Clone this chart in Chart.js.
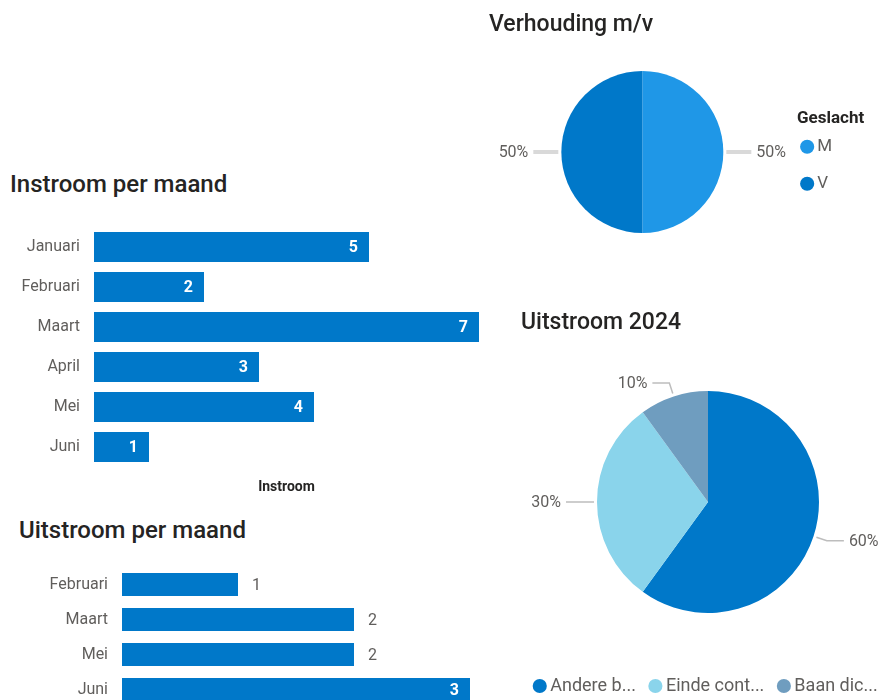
<!DOCTYPE html>
<html>
<head>
<meta charset="utf-8">
<script src="https://cdn.jsdelivr.net/npm/chart.js@4.4.1/dist/chart.umd.min.js"></script>
<style>
html, body { margin: 0; padding: 0; background: #fff; width: 882px; height: 700px; overflow: hidden; }
.titel { position: absolute; font-family: Roboto, sans-serif; font-weight: 500; font-size: 23px; line-height: 23px; color: #252423; white-space: nowrap; }
.groot { font-size: 24px; line-height: 24px; }
.legendakop { position: absolute; font-family: Roboto, sans-serif; font-weight: bold; font-size: 17px; line-height: 17px; color: #252423; }
canvas { position: absolute; }
</style>
</head>
<body>
<canvas id="instroomChart" width="490" height="275" style="left:0;top:222px"></canvas>
<canvas id="uitstroomChart" width="490" height="145" style="left:0;top:562px"></canvas>
<canvas id="geslachtChart" width="412" height="230" style="left:470px;top:37px"></canvas>
<canvas id="redenChart" width="380" height="375" style="left:520px;top:330px"></canvas>

<div class="titel groot" style="left:10px;top:172px">Instroom per maand</div>
<div class="titel groot" style="left:19px;top:518px">Uitstroom per maand</div>
<div class="titel" style="left:489px;top:12px">Verhouding m/v</div>
<div class="titel" style="left:521px;top:310px">Uitstroom 2024</div>
<div class="legendakop" style="left:797px;top:109px">Geslacht</div>

<script>
// Data
const instroomMaanden = ['Januari', 'Februari', 'Maart', 'April', 'Mei', 'Juni'];
const instroomAantal = [5, 2, 7, 3, 4, 1];

const uitstroomMaanden = ['Februari', 'Maart', 'Mei', 'Juni'];
const uitstroomAantal = [1, 2, 2, 3];

const geslachtLabels = ['M', 'V'];
const geslachtAantal = [50, 50];

const redenLabels = ['Andere b...', 'Einde cont...', 'Baan dic...'];
const redenAantal = [6, 3, 1];

// Kleuren
const donkerBlauw = '#0078c9';
const lichtBlauw = '#1f97e7';
const cyaan = '#8ad4eb';
const grijsBlauw = '#6f9dbf';
const labelKleur = '#605e5c';
const titelKleur = '#252423';

Chart.defaults.font.family = 'Roboto, sans-serif';
Chart.defaults.color = labelKleur;

// Waardelabels op de balken
const barValueLabels = {
    id: 'barValueLabels',
    afterDatasetsDraw(chart, args, opts) {
        const { ctx, chartArea } = chart;
        const meta = chart.getDatasetMeta(0);
        const values = chart.data.datasets[0].data;
        ctx.save();
        ctx.textBaseline = 'middle';
        meta.data.forEach((bar, i) => {
            const txt = String(values[i]);
            ctx.font = 'bold 16px Roboto, sans-serif';
            const w = ctx.measureText(txt).width;
            if (opts.mode === 'auto' && bar.x + 14 + w < chartArea.right) {
                ctx.font = '16px Roboto, sans-serif';
                ctx.fillStyle = labelKleur;
                ctx.textAlign = 'left';
                ctx.fillText(txt, bar.x + 14, bar.y + 1);
            } else {
                ctx.fillStyle = '#ffffff';
                ctx.textAlign = 'right';
                ctx.fillText(txt, bar.x - 11, bar.y + 1);
            }
        });
        ctx.restore();
    }
};

// Percentages met hulplijnen naast de taart
const pieLeaderLabels = {
    id: 'pieLeaderLabels',
    afterDatasetsDraw(chart, args, opts) {
        const ctx = chart.ctx;
        const meta = chart.getDatasetMeta(0);
        const values = chart.data.datasets[0].data;
        const total = values.reduce((a, b) => a + b, 0);
        ctx.save();
        meta.data.forEach((arc, i) => {
            const mid = (arc.startAngle + arc.endAngle) / 2;
            const cos = Math.cos(mid), sin = Math.sin(mid);
            const r = arc.outerRadius;
            const x1 = arc.x + cos * (r + opts.gap), y1 = arc.y + sin * (r + opts.gap);
            const x2 = arc.x + cos * (r + opts.elbow), y2 = arc.y + sin * (r + opts.elbow);
            const right = cos >= 0;
            const x3 = x2 + (right ? opts.arm : -opts.arm);
            ctx.strokeStyle = opts.lineColor;
            ctx.lineWidth = opts.lineWidth;
            ctx.beginPath();
            ctx.moveTo(x1, y1);
            ctx.lineTo(x2, y2);
            ctx.lineTo(x3, y2);
            ctx.stroke();
            ctx.fillStyle = labelKleur;
            ctx.font = '16px Roboto, sans-serif';
            ctx.textAlign = right ? 'left' : 'right';
            ctx.textBaseline = 'middle';
            ctx.fillText(Math.round(values[i] / total * 100) + '%', x3 + (right ? 5 : -5), y2 + 1);
        });
        ctx.restore();
    }
};

// geen extra ruimte boven/onder voor de categorie-labels
function compactY(width) {
    return function (scale) {
        scale.width = width;
        scale.paddingTop = 0;
        scale.paddingBottom = 0;
    };
}

new Chart(document.getElementById('instroomChart'), {
    type: 'bar',
    data: {
        labels: instroomMaanden,
        datasets: [{
            data: instroomAantal,
            backgroundColor: donkerBlauw,
            categoryPercentage: 1,
            barPercentage: 0.75
        }]
    },
    options: {
        indexAxis: 'y',
        responsive: false,
        animation: false,
        layout: { padding: { top: 5, right: 11, left: 0, bottom: 0 } },
        plugins: {
            legend: { display: false },
            tooltip: { enabled: false },
            barValueLabels: { mode: 'inside' }
        },
        scales: {
            x: {
                min: 0,
                max: Math.max(...instroomAantal),
                grid: { display: false, drawTicks: false },
                border: { display: false },
                ticks: { display: false },
                title: { display: true, text: 'Instroom', color: titelKleur, padding: { top: 4, bottom: 1 }, font: { size: 14, weight: 'bold' } },
                afterFit(scale) { scale.height = 30; }
            },
            y: {
                grid: { display: false, drawTicks: false },
                border: { display: false },
                ticks: { color: labelKleur, font: { size: 16 }, padding: 14 },
                afterFit: compactY(94)
            }
        }
    },
    plugins: [barValueLabels]
});

new Chart(document.getElementById('uitstroomChart'), {
    type: 'bar',
    data: {
        labels: uitstroomMaanden,
        datasets: [{
            data: uitstroomAantal,
            backgroundColor: donkerBlauw,
            categoryPercentage: 1,
            barPercentage: 0.66
        }]
    },
    options: {
        indexAxis: 'y',
        responsive: false,
        animation: false,
        layout: { padding: { top: 5, right: 20, left: 0, bottom: 0 } },
        plugins: {
            legend: { display: false },
            tooltip: { enabled: false },
            barValueLabels: { mode: 'auto' }
        },
        scales: {
            x: {
                display: false,
                min: 0,
                max: Math.max(...uitstroomAantal)
            },
            y: {
                grid: { display: false, drawTicks: false },
                border: { display: false },
                ticks: { color: labelKleur, font: { size: 16 }, padding: 14 },
                afterFit: compactY(122)
            }
        }
    },
    plugins: [barValueLabels]
});

new Chart(document.getElementById('geslachtChart'), {
    type: 'pie',
    data: {
        labels: geslachtLabels,
        datasets: [{
            data: geslachtAantal,
            backgroundColor: [lichtBlauw, donkerBlauw],
            borderWidth: 0,
            radius: 81
        }]
    },
    options: {
        responsive: false,
        animation: false,
        layout: { padding: { left: 29, right: 40, top: 0, bottom: 0 } },
        plugins: {
            tooltip: { enabled: false },
            legend: {
                position: 'right',
                align: 'center',
                // ruimte voor de kop "Geslacht" (die staat als tekst erboven)
                title: {
                    display: true,
                    text: 'Geslacht',
                    position: 'start',
                    color: 'rgba(0,0,0,0)',
                    font: { size: 17, weight: 'bold' },
                    padding: { top: 0, bottom: 6 }
                },
                labels: {
                    usePointStyle: true,
                    pointStyle: 'circle',
                    boxWidth: 3,
                    boxHeight: 10,
                    padding: 20,
                    color: labelKleur,
                    font: { size: 17 }
                }
            },
            pieLeaderLabels: { gap: 3, elbow: 3, arm: 25, lineWidth: 4, lineColor: '#d9d9d9' }
        }
    },
    plugins: [pieLeaderLabels]
});

new Chart(document.getElementById('redenChart'), {
    type: 'pie',
    data: {
        labels: redenLabels,
        datasets: [{
            data: redenAantal,
            backgroundColor: [donkerBlauw, cyaan, grijsBlauw],
            borderWidth: 0,
            radius: 111
        }]
    },
    options: {
        responsive: false,
        animation: false,
        layout: { padding: { left: 0, right: 4, top: 15, bottom: 0 } },
        plugins: {
            tooltip: { enabled: false },
            legend: {
                position: 'bottom',
                align: 'center',
                labels: {
                    usePointStyle: true,
                    pointStyle: 'circle',
                    boxWidth: 3,
                    boxHeight: 10,
                    padding: 18,
                    color: labelKleur,
                    font: { size: 18 }
                }
            },
            pieLeaderLabels: { gap: 3, elbow: 14, arm: 17, lineWidth: 1.5, lineColor: '#bdbdbd' }
        }
    },
    plugins: [pieLeaderLabels]
});
</script>
</body>
</html>
